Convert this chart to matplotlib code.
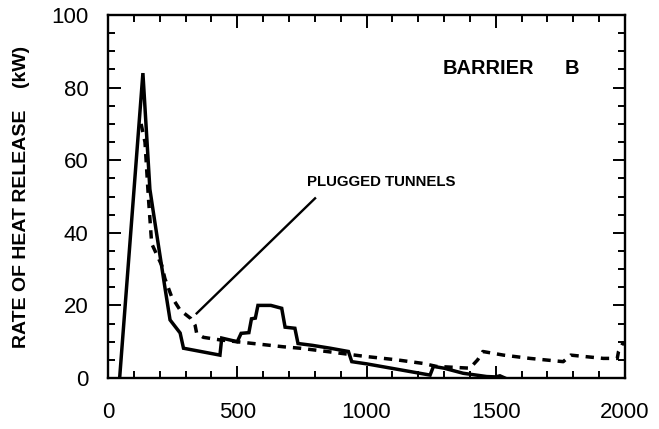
import matplotlib
matplotlib.use("Agg")
import matplotlib.pyplot as plt
from matplotlib.ticker import MultipleLocator

plt.rcParams['font.family'] = ['Liberation Sans', 'DejaVu Sans']

# heat release, open tunnels (solid)
open_time = [45, 135, 162, 180, 220, 240, 279, 292, 433, 440, 500, 515, 545, 555,
             570, 580, 630, 672, 685, 723, 735, 790, 860, 930, 943, 1000, 1246,
             1259, 1300, 1374, 1465, 1500, 1516, 1535]
open_hrr = [0, 84, 52, 43.5, 25, 16, 12.4, 8.2, 6.3, 11, 10, 12.3, 12.5, 16.3,
            16.5, 20, 20, 19.2, 14, 13.7, 9.5, 9, 8.2, 7.3, 4.5, 3.9, 0.8,
            3.2, 2.7, 1.3, 0.4, 0.3, 0.6, 0]

# heat release, plugged tunnels (dashed)
plug_time = [128, 143, 156, 169, 208, 220, 246, 279, 320, 337, 343, 369, 433,
             562, 678, 743, 846, 988, 1117, 1220, 1270, 1400, 1430, 1450, 1530,
             1632, 1761, 1790, 1916, 1970, 1975, 1995]
plug_hrr = [70, 65, 50, 37, 31, 27.4, 22.4, 18.7, 16.4, 14.5, 12.3, 11.2, 10.5,
            9.5, 8.6, 8.2, 7.3, 6, 5, 4, 3.2, 2.7, 5, 7.3, 6.3,
            5.4, 4.5, 6.3, 5.4, 5.4, 7.3, 10]

fig = plt.figure(figsize=(6.59, 4.29), dpi=100)
ax = fig.add_axes([0.1639, 0.1189, 0.7845, 0.8461])

ax.plot(open_time, open_hrr, color='black', lw=2.5, solid_joinstyle='miter')
ax.plot(plug_time, plug_hrr, color='black', lw=2.5, dashes=(2.4, 2.0))

# label for the plugged-tunnel curve
ax.plot([343, 801], [17.8, 49.5], color='black', lw=1.7)
ax.text(770, 54, 'PLUGGED TUNNELS', fontsize=10.8, fontweight='bold',
        ha='left', va='center')

ax.text(1296, 85.4, 'BARRIER', fontsize=14.4, fontweight='bold', ha='left', va='center')
ax.text(1768, 85.4, 'B', fontsize=14.4, fontweight='bold', ha='left', va='center')

ax.set_xlim(0, 2000)
ax.set_ylim(0, 100)
ax.xaxis.set_major_locator(MultipleLocator(500))
ax.xaxis.set_minor_locator(MultipleLocator(100))
ax.yaxis.set_major_locator(MultipleLocator(20))
ax.yaxis.set_minor_locator(MultipleLocator(5))

ax.tick_params(which='both', direction='in', top=True, right=True, width=1.4)
ax.tick_params(which='major', length=9)
ax.tick_params(which='minor', length=5)
ax.tick_params(axis='x', which='major', labelsize=16, pad=17)
ax.tick_params(axis='y', which='major', labelsize=16, pad=14)

for sp in ax.spines.values():
    sp.set_linewidth(1.7)

ax.set_ylabel('RATE OF HEAT RELEASE    (kW)', fontsize=14, fontweight='bold')
ax.yaxis.set_label_coords(-0.151, 0.5)

fig.savefig('out.png', dpi=100)
